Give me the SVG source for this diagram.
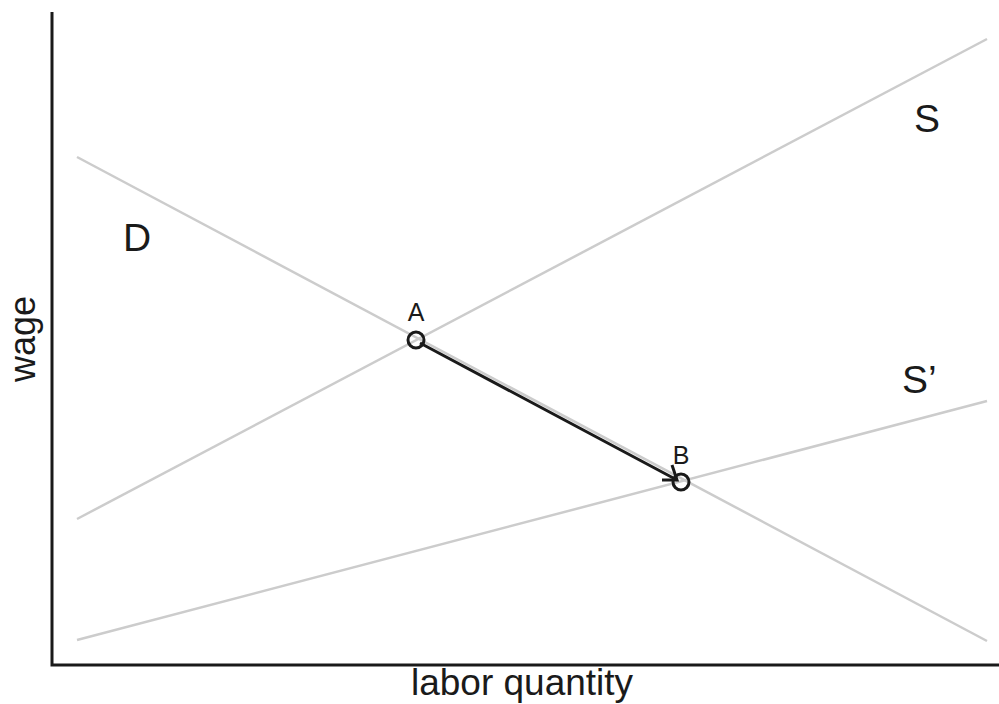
<svg xmlns="http://www.w3.org/2000/svg" width="999" height="704" viewBox="0 0 999 704">
<style>
.curve{stroke:#cccccc;stroke-width:2.5;fill:none}
.axis{stroke:#1a1a1a;stroke-width:3;fill:none}
.lbl{font-family:"Liberation Sans",Arial,sans-serif;fill:#1a1a1a}
.pt{stroke:#1a1a1a;stroke-width:3;fill:none}
</style>
<rect width="999" height="704" fill="#fff"/>
<g id="axes">
<path class="axis" d="M52,12 V665 H999"/>
<text class="lbl" x="522" y="695" font-size="37" text-anchor="middle">labor quantity</text>
<text class="lbl" font-size="36" text-anchor="middle" transform="translate(35,339) rotate(-90)">wage</text>
</g>
<g id="curves">
<g id="D"><line class="curve" x1="77" y1="157" x2="987" y2="641"/><text class="lbl" x="123" y="251" font-size="39">D</text></g>
<g id="S"><line class="curve" x1="77" y1="519" x2="987" y2="39"/><text class="lbl" x="914" y="132" font-size="39">S</text></g>
<g id="S-prime"><line class="curve" x1="77" y1="640" x2="987" y2="401"/><text class="lbl" x="902" y="393" font-size="39">S’</text></g>
</g>
<g id="connectors">
<line stroke="#1a1a1a" stroke-width="3" x1="420" y1="343" x2="677" y2="480"/>
<path d="M662,480 H677 L672,465" stroke="#1a1a1a" stroke-width="3" fill="none"/>
</g>
<g id="A"><circle class="pt" cx="416" cy="340" r="8"/><text class="lbl" x="416" y="321" font-size="25" text-anchor="middle">A</text></g>
<g id="B"><circle class="pt" cx="681" cy="482" r="8"/><text class="lbl" x="681" y="464" font-size="25" text-anchor="middle">B</text></g>
</svg>
